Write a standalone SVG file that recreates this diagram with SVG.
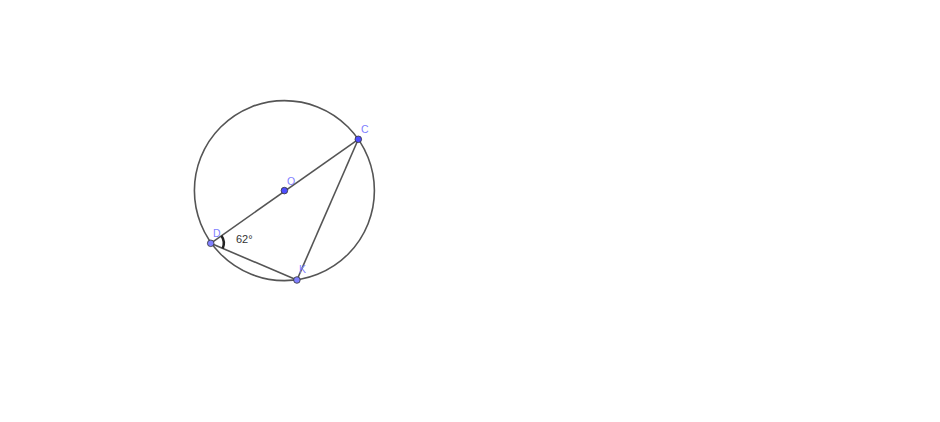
<svg xmlns="http://www.w3.org/2000/svg" width="940" height="422" viewBox="0 0 940 422">
<style>
.ln{fill:none;stroke:#555;stroke-width:1.6}
.pt{stroke:#333;stroke-width:0.8}
.free{fill:#4d4dff}
.dep{fill:#8080ff}
.lbl{font-family:"Liberation Sans",Arial,sans-serif;font-size:10.5px;fill:#7f7fff}
.ang{font-family:"Liberation Sans",Arial,sans-serif;font-size:11px;fill:#333}
</style>
<rect width="940" height="422" fill="#ffffff"/>
<g id="connectors">
<circle class="ln" cx="284.4" cy="190.6" r="90"/>
<line class="ln" x1="210.7" y1="243.3" x2="358.3" y2="139.3"/>
<line class="ln" x1="358.3" y1="139.3" x2="296.9" y2="280"/>
<line class="ln" x1="210.7" y1="243.3" x2="296.9" y2="280"/>
<path d="M221.4,235.8 A13,13 0 0 1 222.7,248.4" fill="none" stroke="#222" stroke-width="2.5"/>
</g>
<g id="angle-label"><text class="ang" x="236" y="243">62°</text></g>
<g id="O"><circle class="pt free" cx="284.4" cy="190.6" r="3.3"/><text class="lbl" x="287" y="185">O</text></g>
<g id="C"><circle class="pt free" cx="358.3" cy="139.3" r="3.3"/><text class="lbl" x="361" y="133">C</text></g>
<g id="D"><circle class="pt dep" cx="210.7" cy="243.3" r="3.3"/><text class="lbl" x="213" y="237">D</text></g>
<g id="K"><circle class="pt dep" cx="296.9" cy="280" r="3.3"/><text class="lbl" x="299" y="273">K</text></g>
</svg>
